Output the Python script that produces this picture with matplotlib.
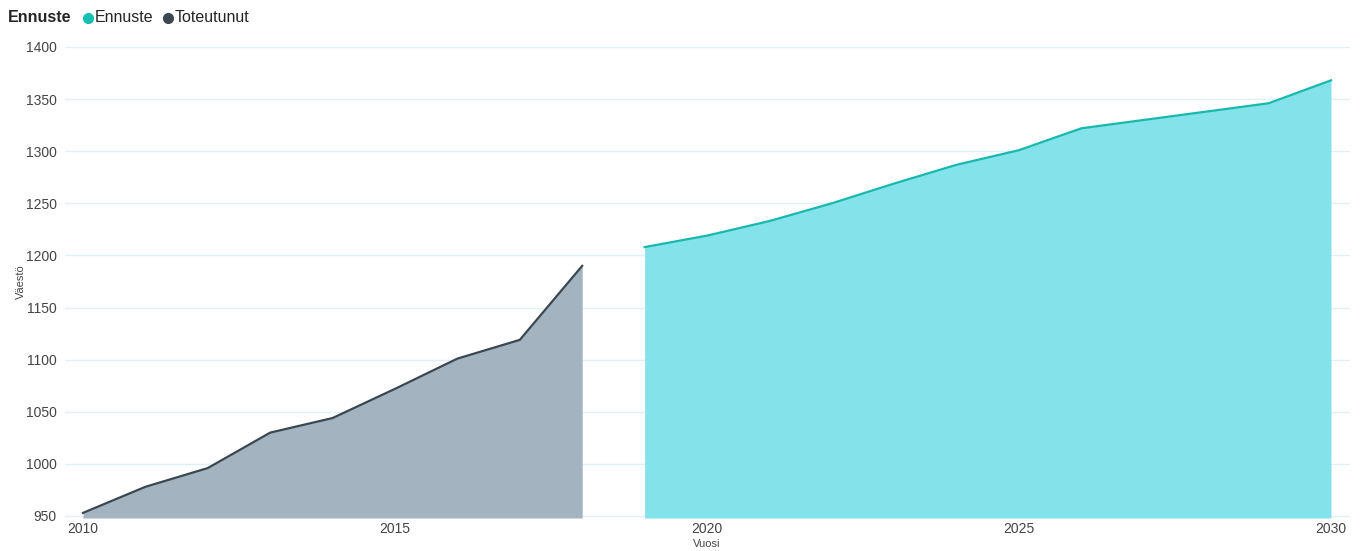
import matplotlib
matplotlib.use("Agg")
import matplotlib.pyplot as plt

plt.rcParams['font.family'] = ['Liberation Sans', 'DejaVu Sans']

years_actual = [2010, 2011, 2012, 2013, 2014, 2015, 2016, 2017, 2018]
actual = [953, 978, 996, 1030, 1044, 1072, 1101, 1119, 1190]
years_fc = [2019, 2020, 2021, 2022, 2023, 2024, 2025, 2026, 2027, 2028, 2029, 2030]
forecast = [1208, 1219, 1233, 1250, 1269, 1287, 1301, 1322, 1330, 1338, 1346, 1368]
yticks = [950, 1000, 1050, 1100, 1150, 1200, 1250, 1300, 1350, 1400]
xticks = [2010, 2015, 2020, 2025, 2030]

W, H = 1361, 551
fig = plt.figure(figsize=(W / 100, H / 100), dpi=100)
left, right, top, bottom = 65, 1350, 47, 518
ax = fig.add_axes([left / W, (H - bottom) / H, (right - left) / W, (bottom - top) / H])

x0 = 2010 - (83 - left) / 62.4
x1 = 2030 + (right - 1331) / 62.4
ax.set_xlim(x0, x1)
ymin = 950 - (bottom - 516) / 1.042
ax.set_ylim(ymin, 1400)

grid_c = '#e0f0fb'
for y in yticks:
    ax.axhline(y, color=grid_c, lw=1, zorder=0)

ax.fill_between(years_actual, actual, ymin, color='#a3b4c0', lw=0, zorder=1)
ax.plot(years_actual, actual, color='#3a4750', lw=1.6, zorder=2)
ax.fill_between(years_fc, forecast, ymin, color='#84e3ea', lw=0, zorder=1)
ax.plot(years_fc, forecast, color='#17b8ae', lw=1.6, zorder=2)

for s in ax.spines.values():
    s.set_visible(False)
ax.set_yticks(yticks)
ax.set_xticks(xticks)
ax.tick_params(length=0, labelsize=10, colors='#444444', pad=6)
ax.tick_params(axis='x', pad=3)

fig.text(21 / W, 1 - 282 / H, 'Väestö', rotation=90, ha='center', va='center', fontsize=8, color='#444444')
fig.text(707 / W, 1 - 544 / H, 'Vuosi', ha='center', va='center', fontsize=8, color='#444444')

# legend
fs = 11.5
fig.text(8 / W, 1 - 18 / H, 'Ennuste', ha='left', va='center', fontsize=fs, fontweight='bold', color='#252525')
fig.lines.append(matplotlib.lines.Line2D([88 / W], [1 - 18 / H], marker='o', ms=7, color='#13bfb0', transform=fig.transFigure))
fig.text(95 / W, 1 - 18 / H, 'Ennuste', ha='left', va='center', fontsize=fs, color='#252525')
fig.lines.append(matplotlib.lines.Line2D([168 / W], [1 - 18 / H], marker='o', ms=7, color='#3a4750', transform=fig.transFigure))
fig.text(175 / W, 1 - 18 / H, 'Toteutunut', ha='left', va='center', fontsize=fs, color='#252525')

fig.savefig('out.png', dpi=100, facecolor='white')
